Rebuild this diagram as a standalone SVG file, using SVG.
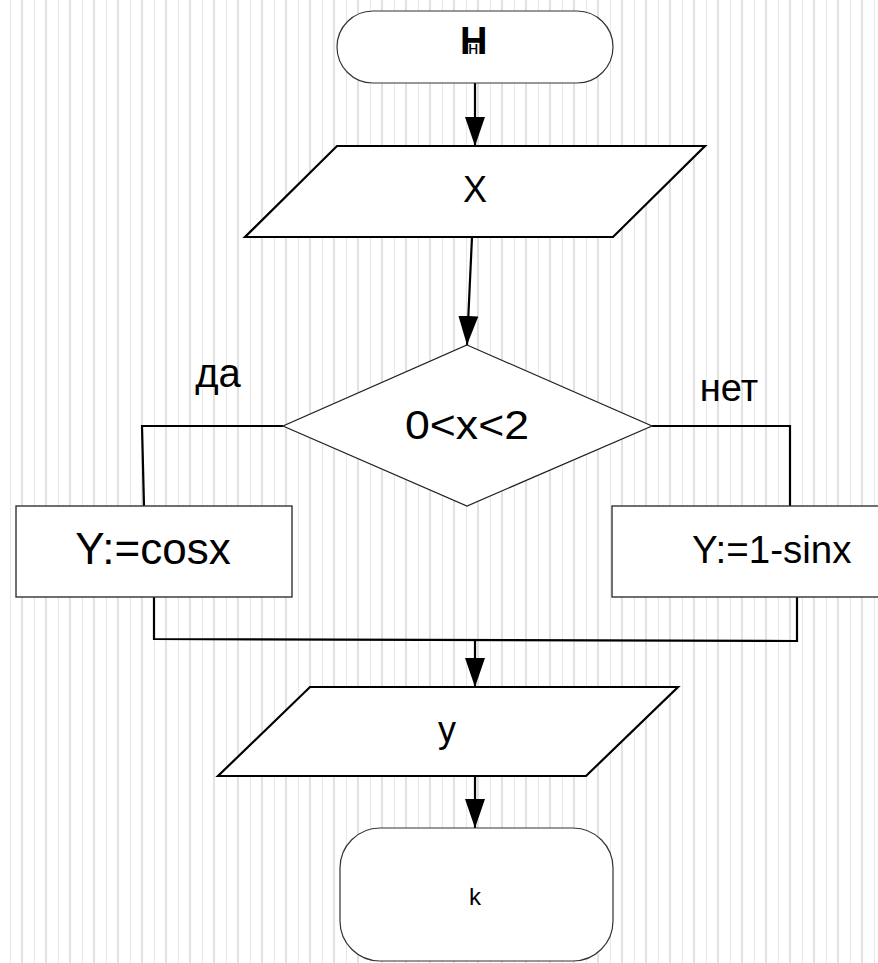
<svg xmlns="http://www.w3.org/2000/svg" width="878" height="963" viewBox="0 0 878 963">
<defs>
<pattern id="grid" x="0" y="0" width="24" height="963" patternUnits="userSpaceOnUse">
<rect x="10" y="0" width="1" height="963" fill="#e8e8e8"/>
<rect x="21" y="0" width="2" height="963" fill="#e2e2e2"/>
</pattern>
<marker id="arr" viewBox="0 0 29 20" markerWidth="29" markerHeight="20" refX="29" refY="10" orient="auto" markerUnits="userSpaceOnUse">
<path d="M0,0 L29,10 L0,20 Z" fill="#000"/>
</marker>
<style>
.t{font-family:"Liberation Sans",Arial,sans-serif;fill:#000;}
.term{fill:#fff;stroke:#333;stroke-width:1.2;}
.io{fill:#fff;stroke:#000;stroke-width:2.2;stroke-linejoin:miter;}
.dec{fill:#fff;stroke:#222;stroke-width:1.2;}
.proc{fill:#fff;stroke:#333;stroke-width:1.4;}
.c{fill:none;stroke:#000;stroke-width:2.2;}
</style>
</defs>
<rect x="0" y="0" width="878" height="963" fill="#fff"/>
<rect x="0" y="0" width="878" height="963" fill="url(#grid)"/>

<g id="connectors">
<line class="c" x1="475" y1="83" x2="475" y2="146" marker-end="url(#arr)"/>
<line class="c" x1="472" y1="237" x2="467" y2="345" marker-end="url(#arr)"/>
<polyline class="c" points="283,426 142,426 144,506"/>
<polyline class="c" points="652,426 790,426 790,513"/>
<polyline class="c" points="154,597 154,639 797,641 797,597"/>
<line class="c" x1="475" y1="640" x2="475" y2="687" marker-end="url(#arr)"/>
<line class="c" x1="475" y1="776" x2="475" y2="828" marker-end="url(#arr)"/>
</g>

<g id="start">
<rect class="term" x="337" y="11" width="276" height="72" rx="36" ry="36"/>
<text class="t" x="460" y="54" font-size="38" font-weight="bold">Н<tspan dx="-19.4" font-size="19" font-weight="normal">н</tspan></text>
</g>

<g id="input-x">
<polygon class="io" points="337,146 705,146 613,237 245,237"/>
<text class="t" x="475" y="202" font-size="36" text-anchor="middle">X</text>
</g>

<g id="decision">
<polygon class="dec" points="467,345 652,426 467,506 283,426"/>
<text class="t" x="467" y="439" font-size="40" text-anchor="middle" textLength="124" lengthAdjust="spacingAndGlyphs">0&lt;x&lt;2</text>
</g>

<g id="label-yes">
<text class="t" x="218" y="387" font-size="40" text-anchor="middle">да</text>
</g>
<g id="label-no">
<text class="t" x="729" y="401" font-size="38" text-anchor="middle">нет</text>
</g>

<g id="proc-cos">
<rect class="proc" x="16" y="506" width="276" height="91"/>
<text class="t" x="153" y="564" font-size="44" text-anchor="middle">Y:=cosx</text>
</g>

<g id="proc-sin">
<rect class="proc" x="612" y="506" width="300" height="91"/>
<text class="t" x="692" y="563" font-size="38.5">Y:=1-sinx</text>
</g>

<g id="output-y">
<polygon class="io" points="310,687 678,687 586,776 218,776"/>
<text class="t" x="447" y="742" font-size="36" text-anchor="middle">y</text>
</g>

<g id="end">
<rect class="term" x="340" y="828" width="273" height="133" rx="40" ry="40"/>
<text class="t" x="475" y="905" font-size="24" text-anchor="middle">k</text>
</g>
</svg>
